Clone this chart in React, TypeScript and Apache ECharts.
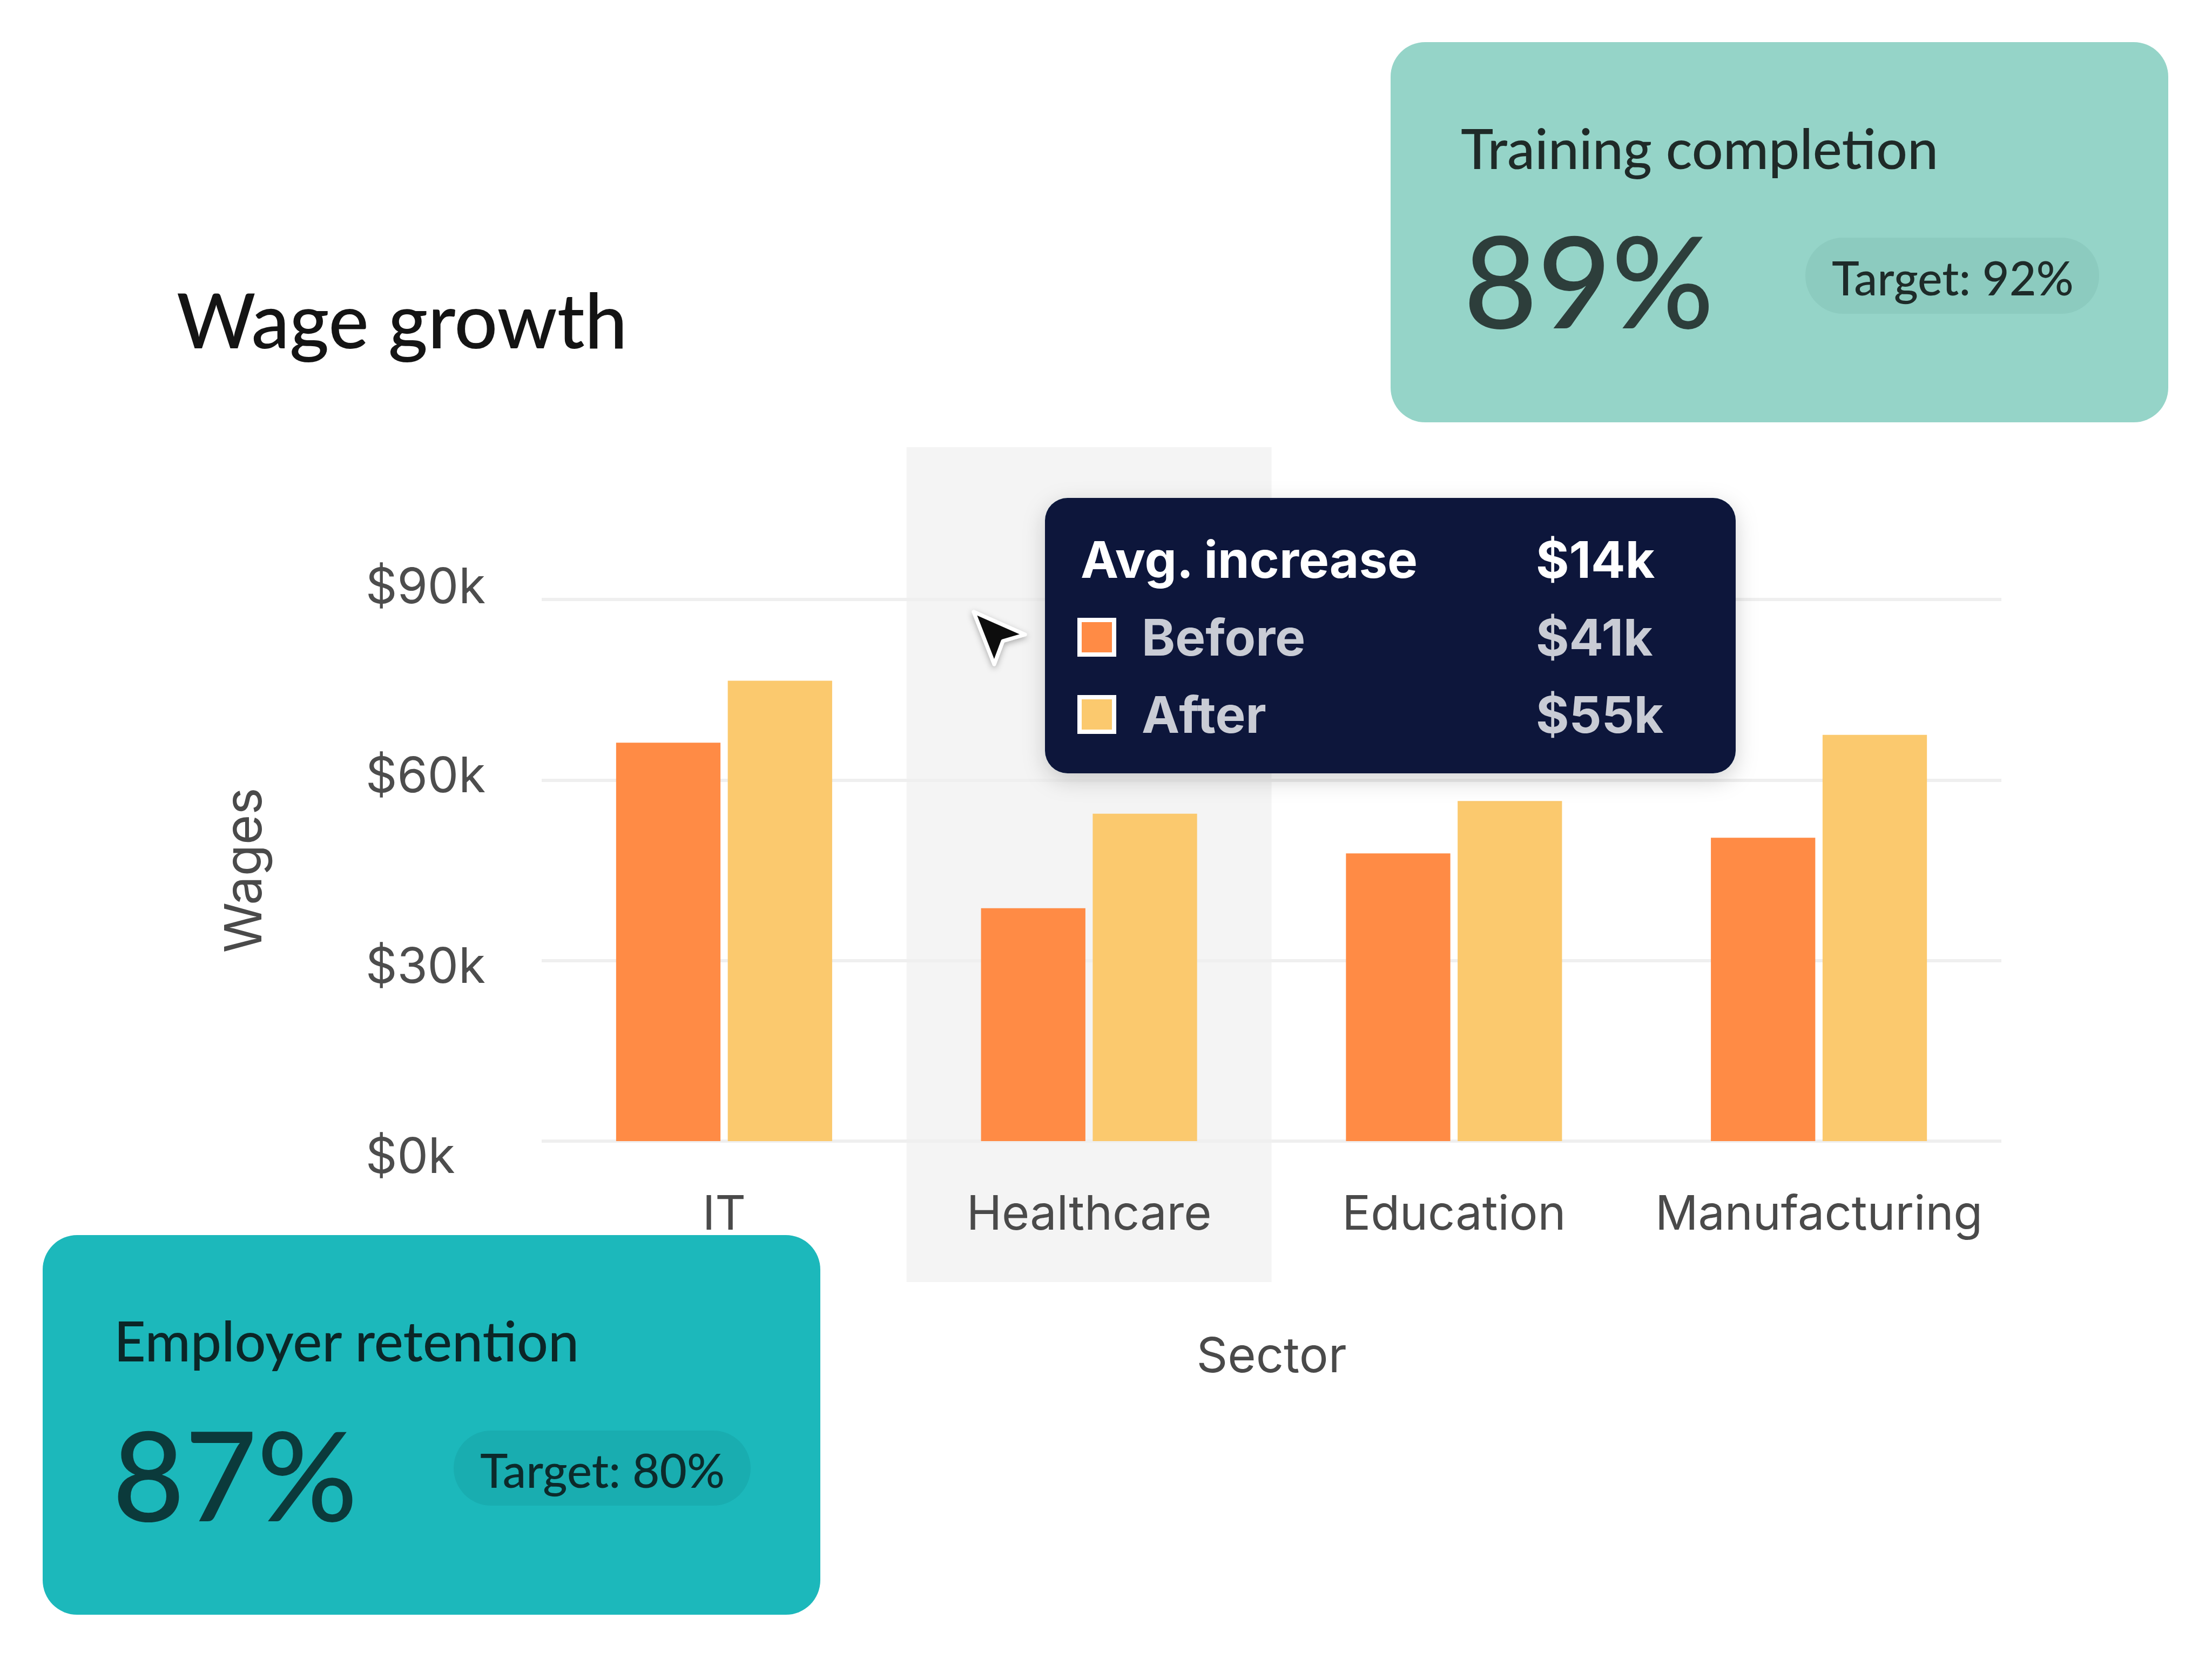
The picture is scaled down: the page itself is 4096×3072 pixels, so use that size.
import React, { useEffect, useRef } from "react";
import * as echarts from "echarts";

const categories = ["IT", "Healthcare", "Education", "Manufacturing"];
const beforeValues = [66.2, 38.7, 47.8, 50.4];
const afterValues = [76.5, 54.4, 56.5, 67.5];
const yTickMax = 90;
const yTickStep = 30;
const highlightIndex = 1;
const tooltipRows = [
  { label: "Avg. increase", value: "$14k" },
  { label: "Before", value: "$41k" },
  { label: "After", value: "$55k" },
];
const cardTop = { title: "Training completion", value: "89%", target: "Target: 92%" };
const cardBottom = { title: "Employer retention", value: "87%", target: "Target: 80%" };

const ORANGE = "#ff8b45";
const YELLOW = "#fbc96e";
const INTER = "Inter, 'Noto Sans', sans-serif";
const GEO = "Lato, 'Noto Sans', sans-serif";

export default function App() {
  const ref = useRef<HTMLDivElement>(null);
  useEffect(() => {
    const chart = echarts.init(ref.current!, null, { renderer: "svg" });
    const labelStyle = { color: "#4d4d4d", fontSize: 91, fontFamily: INTER };
    const option: any = {
      animation: false,
      backgroundColor: "#ffffff",
      grid: { left: 1003, right: 390, top: 1110, bottom: 959 },
      xAxis: {
        type: "category",
        data: categories,
        axisLine: { show: false },
        axisTick: { show: false },
        axisLabel: { color: "#4a4a4a", fontSize: 88, fontFamily: INTER, margin: 88, interval: 0 },
        name: "Sector",
        nameLocation: "middle",
        nameGap: 350,
        nameTextStyle: { color: "#4a4a4a", fontSize: 90, fontFamily: INTER },
      },
      yAxis: {
        type: "value",
        min: 0,
        max: yTickMax,
        interval: yTickStep,
        axisLine: { show: false },
        axisTick: { show: false },
        splitLine: { lineStyle: { color: "#efefef", width: 6 } },
        axisLabel: {
          ...labelStyle,
          align: "left",
          margin: 326,
          formatter: (v: number) => "{l" + v + "|$" + v + "k}",
          rich: {
            l0: { ...labelStyle, padding: [52, 0, 0, 0] },
            l30: { ...labelStyle, padding: [16, 0, 0, 0] },
            l60: { ...labelStyle, padding: [0, 0, 20, 0] },
            l90: { ...labelStyle, padding: [0, 0, 52, 0] },
          },
        },
        name: "Wages",
        nameLocation: "middle",
        nameGap: 506,
        nameRotate: 90,
        nameTextStyle: { color: "#4a4a4a", fontSize: 95, fontFamily: INTER },
      },
      series: [
        {
          name: "Before",
          type: "bar",
          data: beforeValues,
          barWidth: "28.6%",
          barGap: "7%",
          itemStyle: { color: ORANGE },
        },
        {
          name: "After",
          type: "bar",
          data: afterValues,
          barWidth: "28.6%",
          barGap: "7%",
          itemStyle: { color: YELLOW },
        },
      ],
    };
    chart.setOption(option);

    const c0 = chart.convertToPixel({ xAxisIndex: 0 }, 0) as number;
    const c1 = chart.convertToPixel({ xAxisIndex: 0 }, 1) as number;
    const band = c1 - c0;
    const hc = chart.convertToPixel({ xAxisIndex: 0 }, highlightIndex) as number;

    const txt = (id: string, x: number, y: number, text: string, size: number, fill: string, family: string, weight: any = "normal", z = 110) => ({
      type: "text",
      id,
      x,
      y,
      z,
      style: { text, fill, fontSize: size, fontFamily: family, fontWeight: weight, verticalAlign: "middle", align: "left" },
    });

    const rowY = [1036, 1180, 1323];
    const elements: any[] = [
      {
        type: "rect",
        id: "band",
        z: -10,
        shape: { x: hc - band / 2, y: 828, width: band, height: 2374 - 828 },
        style: { fill: "#f4f4f4" },
      },
      txt("title", 327, 590, "Wage growth", 141, "#141414", GEO, 500),
      // Top card
      {
        type: "rect",
        id: "cardTop",
        z: 100,
        shape: { x: 2575, y: 78, width: 1440, height: 704, r: 64 },
        style: { fill: "#95d4c8" },
      },
      txt("cardTopTitle", 2705, 273, cardTop.title, 102, "#1f2a28", GEO, 500),
      txt("cardTopValue", 2710, 516, cardTop.value, 236, "#2d3e3b", GEO, 500),
      {
        type: "rect",
        id: "pillTop",
        z: 105,
        shape: { x: 3343, y: 440, width: 544, height: 141, r: 70 },
        style: { fill: "#8ccbbf" },
      },
      txt("cardTopTarget", 3392, 513, cardTop.target, 86, "#1e2b29", GEO, 500),
      // Bottom card
      {
        type: "rect",
        id: "cardBottom",
        z: 100,
        shape: { x: 79, y: 2287, width: 1440, height: 703, r: 64 },
        style: { fill: "#1cb8bb" },
      },
      txt("cardBottomTitle", 211, 2481, cardBottom.title, 102, "#0b2627", GEO, 500),
      txt("cardBottomValue", 208, 2727, cardBottom.value, 231, "#0b3a3b", GEO, 500),
      {
        type: "rect",
        id: "pillBottom",
        z: 105,
        shape: { x: 840, y: 2649, width: 550, height: 139, r: 70 },
        style: { fill: "#19adb0" },
      },
      txt("cardBottomTarget", 889, 2721, cardBottom.target, 87, "#0c2a2b", GEO, 500),
      // Tooltip
      {
        type: "rect",
        id: "tip",
        z: 120,
        shape: { x: 1935, y: 922, width: 1279, height: 510, r: 42 },
        style: { fill: "#07183a", shadowBlur: 40, shadowColor: "rgba(0,0,0,0.18)", shadowOffsetY: 12 },
      },
      txt("tipL0", 2001, rowY[0], tooltipRows[0].label, 94, "#ffffff", INTER, "bold", 125),
      txt("tipV0", 2844, rowY[0], tooltipRows[0].value, 94, "#ffffff", INTER, "bold", 125),
      {
        type: "rect",
        id: "sq1",
        z: 125,
        shape: { x: 1999, y: rowY[1] - 32, width: 64, height: 64 },
        style: { fill: ORANGE, stroke: "#ffffff", lineWidth: 8 },
      },
      txt("tipL1", 2114, rowY[1], tooltipRows[1].label, 94, "#c9ccd5", INTER, "bold", 125),
      txt("tipV1", 2844, rowY[1], tooltipRows[1].value, 94, "#c9ccd5", INTER, "bold", 125),
      {
        type: "rect",
        id: "sq2",
        z: 125,
        shape: { x: 1999, y: rowY[2] - 32, width: 64, height: 64 },
        style: { fill: YELLOW, stroke: "#ffffff", lineWidth: 8 },
      },
      txt("tipL2", 2114, rowY[2], tooltipRows[2].label, 94, "#c9ccd5", INTER, "bold", 125),
      txt("tipV2", 2844, rowY[2], tooltipRows[2].value, 94, "#c9ccd5", INTER, "bold", 125),
      // Cursor
      {
        type: "polygon",
        id: "cursor",
        z: 130,
        x: 1803,
        y: 1133,
        shape: { points: [[0, 0], [95, 42], [54, 54], [38, 97]] },
        style: { fill: "#111111", stroke: "#ffffff", lineWidth: 7, lineJoin: "round", shadowBlur: 12, shadowColor: "rgba(0,0,0,0.3)", shadowOffsetY: 4 },
      },
    ];
    chart.setOption({ graphic: { elements } });
    return () => chart.dispose();
  }, []);
  return <div ref={ref} style={{ position: "fixed", left: 0, top: 0, width: 4096, height: 3072 }} />;
}
